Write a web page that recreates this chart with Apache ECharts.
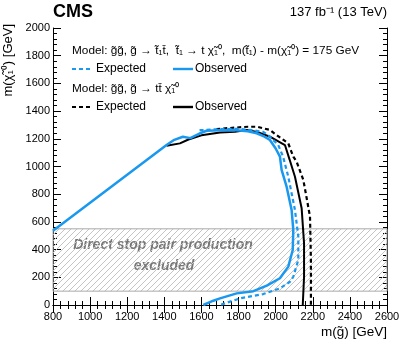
<!DOCTYPE html>
<html>
<head>
<meta charset="utf-8">
<script src="https://cdn.jsdelivr.net/npm/echarts@6/dist/echarts.min.js"></script>
<style>
  html, body { margin: 0; padding: 0; background: #fff; }
  #chart { width: 407px; height: 344px; }
</style>
</head>
<body>
<div id="chart"></div>
<script>
// axis ticks
const xTicks = [800, 2600, 200];
const yTicks = [0, 2000, 200];

// direct stop pair production excluded band (m(chi) range)
const stopBand = [100, 550];

// gluino -> stop top, stop -> top neutralino
const stopObserved = [
  [800, 536], [1412, 1155], [1450, 1190], [1500, 1215], [1540, 1205], [1592, 1240],
  [1628, 1258], [1700, 1262], [1772, 1264], [1850, 1255], [1898, 1240], [1940, 1215],
  [1969, 1191], [2000, 1130], [2023, 1071], [2032, 975], [2059, 854], [2086, 686],
  [2095, 542], [2092, 397], [2068, 277], [2023, 193], [1952, 140], [1880, 100],
  [1790, 84], [1700, 48], [1664, 31], [1610, 0]
];
const stopExpected = [
  [1590, 1262], [1700, 1270], [1800, 1272], [1880, 1262], [1933, 1250], [1969, 1215],
  [2014, 1155], [2040, 1071], [2068, 926], [2104, 686], [2122, 493], [2122, 325],
  [2095, 204], [2077, 168], [2023, 120], [1933, 79], [1808, 48], [1700, 0]
];

// gluino -> t tbar neutralino
const ttObserved = [
  [1412, 1150], [1484, 1167], [1530, 1195], [1600, 1225], [1700, 1245], [1780, 1250],
  [1844, 1264], [1900, 1250], [1969, 1215], [2050, 1155], [2075, 1050], [2104, 926],
  [2140, 698], [2153, 445], [2153, 204], [2146, 0]
];
const ttExpected = [
  [1680, 1270], [1754, 1278], [1850, 1287], [1900, 1287], [1969, 1264], [2005, 1227],
  [2068, 1167], [2095, 1071], [2113, 1035], [2149, 903], [2170, 750], [2185, 638],
  [2190, 325], [2190, 0]
];

const FONT = "Liberation Sans";
const BLUE = "#1a98ef";
const DASH = [4, 3];

// hatch pattern for the excluded band
const hatch = document.createElement("canvas");
hatch.width = 6;
hatch.height = 6;
const hc = hatch.getContext("2d");
hc.strokeStyle = "#c4c4c4";
hc.lineWidth = 1;
hc.beginPath();
hc.moveTo(0, 6); hc.lineTo(6, 0);
hc.moveTo(-3, 3); hc.lineTo(3, -3);
hc.moveTo(3, 9); hc.lineTo(9, 3);
hc.stroke();

const myChart = echarts.init(document.getElementById("chart"));

const axisCommon = {
  axisLine: { show: true, lineStyle: { color: "#000", width: 1 } },
  axisTick: { show: true, inside: true, length: 8, lineStyle: { color: "#000" } },
  minorTick: { show: true, splitNumber: 5, length: 4, lineStyle: { color: "#000" } },
  splitLine: { show: false }
};
const tickLabel = { color: "#000", fontSize: 11, fontFamily: FONT, formatter: v => String(v) };

const lineSeries = (name, data, color, dashed, width, z) => ({
  name,
  type: "line",
  data,
  symbol: "none",
  z,
  lineStyle: { color, width, type: dashed ? DASH : "solid" }
});

// legend rows (swatch + label), drawn as graphics
const legendRow = (y, color) => [
  { type: "line", shape: { x1: 72, y1: y, x2: 92, y2: y }, style: { stroke: color, lineWidth: 2.2, lineDash: DASH } },
  { type: "text", x: 96, y, style: { text: "Expected", font: "12px " + FONT, fill: "#000", verticalAlign: "middle" } },
  { type: "line", shape: { x1: 173, y1: y, x2: 193, y2: y }, style: { stroke: color, lineWidth: 2.4 } },
  { type: "text", x: 195, y, style: { text: "Observed", font: "12px " + FONT, fill: "#000", verticalAlign: "middle" } }
];

const option = {
  animation: false,
  grid: { left: 53, right: 20, top: 28, bottom: 39 },
  textStyle: { fontFamily: FONT },
  xAxis: [
    {
      type: "value", min: xTicks[0], max: xTicks[1], interval: xTicks[2],
      ...axisCommon, axisLabel: { ...tickLabel, margin: 6 }
    },
    {
      type: "value", position: "top", min: xTicks[0], max: xTicks[1], interval: xTicks[2],
      ...axisCommon, axisLabel: { show: false }
    }
  ],
  yAxis: [
    {
      type: "value", min: yTicks[0], max: yTicks[1], interval: yTicks[2],
      ...axisCommon, axisLabel: { ...tickLabel, margin: 3 }
    },
    {
      type: "value", position: "right", min: yTicks[0], max: yTicks[1], interval: yTicks[2],
      ...axisCommon, axisLabel: { show: false }
    }
  ],
  series: [
    {
      type: "line",
      data: [],
      z: 1,
      markArea: {
        silent: true,
        itemStyle: {
          color: { image: hatch, repeat: "repeat" },
          borderColor: "#aaaaaa",
          borderWidth: 1
        },
        data: [[{ yAxis: stopBand[0], xAxis: xTicks[0] }, { yAxis: stopBand[1], xAxis: xTicks[1] }]]
      }
    },
    lineSeries("Expected (tt)", ttExpected, "#000", true, 2.2, 3),
    lineSeries("Observed (tt)", ttObserved, "#000", false, 2, 4),
    lineSeries("Expected (stop)", stopExpected, BLUE, true, 2.2, 5),
    lineSeries("Observed (stop)", stopObserved, BLUE, false, 2.5, 6)
  ],
  graphic: [
    { type: "text", left: 53, top: 3, style: { text: "CMS", font: "bold 18px " + FONT, fill: "#000" } },
    { type: "text", right: 20, top: 6, style: { text: "137 fb\u207B\u00B9 (13 TeV)", font: "13px " + FONT, fill: "#000" } },
    {
      type: "text", x: 72, y: 51,
      style: {
        text: "Model: g\u0303g\u0303, g\u0303 \u2192 t\u0303\u2081t\u0304,  t\u0303\u2081 \u2192 t \u03C7\u0303\u2081\u2070,  m(t\u0303\u2081) - m(\u03C7\u0303\u2081\u2070) = 175 GeV",
        font: "11.8px " + FONT, fill: "#000", verticalAlign: "middle"
      }
    },
    ...legendRow(69, BLUE),
    {
      type: "text", x: 72, y: 89,
      style: { text: "Model: g\u0303g\u0303, g\u0303 \u2192 tt\u0304 \u03C7\u0303\u2081\u2070", font: "11.8px " + FONT, fill: "#000", verticalAlign: "middle" }
    },
    ...legendRow(107, "#000"),
    {
      type: "text", x: 163, y: 245,
      style: { text: "Direct stop pair production", font: "italic bold 14px " + FONT, fill: "#777", align: "center", verticalAlign: "middle" }
    },
    {
      type: "text", x: 164, y: 266,
      style: { text: "excluded", font: "italic bold 14px " + FONT, fill: "#777", align: "center", verticalAlign: "middle" }
    },
    {
      type: "text", x: 387, y: 332,
      style: { text: "m(g\u0303) [GeV]", font: "13.5px " + FONT, fill: "#000", align: "right", verticalAlign: "middle" }
    },
    {
      type: "text", x: 8, y: 24, rotation: Math.PI / 2,
      style: { text: "m(\u03C7\u0303\u2081\u2070) [GeV]", font: "13px " + FONT, fill: "#000", align: "right", verticalAlign: "middle" }
    }
  ]
};

myChart.setOption(option);
</script>
</body>
</html>
